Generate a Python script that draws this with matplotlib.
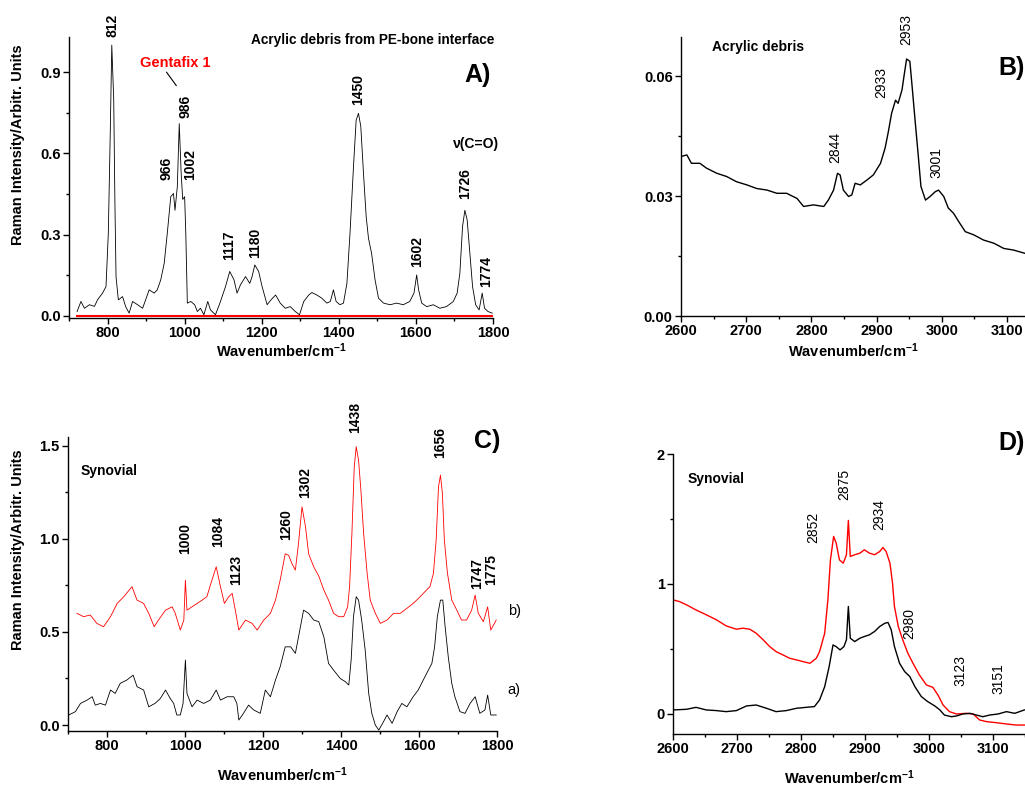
import matplotlib
matplotlib.use("Agg")
import matplotlib.pyplot as plt
from matplotlib.ticker import MultipleLocator, FormatStrFormatter

plt.rcParams['font.family'] = ['Liberation Sans', 'DejaVu Sans']
plt.rcParams['mathtext.default'] = 'regular'

# ---------------- Panel A: acrylic debris (fingerprint region) ----------------
a_wn = [721, 731, 740, 753, 766, 774, 787, 796, 802, 807, 811, 816, 819, 822, 828,
        839, 847, 856, 865, 878, 891, 908, 921, 929, 938, 947, 955, 964, 971, 975,
        981, 986, 991, 995, 1000, 1003, 1007, 1016, 1026, 1033, 1041, 1050, 1060,
        1067, 1080, 1093, 1106, 1117, 1128, 1136, 1145, 1158, 1169, 1175, 1182,
        1192, 1201, 1214, 1224, 1236, 1248, 1261, 1274, 1287, 1298, 1309, 1322,
        1330, 1343, 1356, 1369, 1378, 1386, 1393, 1403, 1412, 1421, 1429, 1438,
        1445, 1451, 1457, 1464, 1471, 1477, 1485, 1494, 1503, 1516, 1533, 1550,
        1567, 1584, 1595, 1602, 1607, 1615, 1628, 1645, 1662, 1679, 1697, 1707,
        1714, 1721, 1727, 1733, 1740, 1747, 1755, 1764, 1772, 1778, 1787, 1798]
a_int = [0.016, 0.053, 0.028, 0.041, 0.035, 0.059, 0.084, 0.108, 0.305, 0.674,
         1.000, 0.800, 0.430, 0.145, 0.059, 0.071, 0.034, 0.010, 0.053, 0.041,
         0.028, 0.096, 0.084, 0.096, 0.133, 0.194, 0.305, 0.440, 0.452, 0.390,
         0.477, 0.710, 0.526, 0.430, 0.440, 0.305, 0.047, 0.053, 0.041, 0.016,
         0.028, 0.004, 0.053, 0.022, 0.004, 0.053, 0.108, 0.164, 0.133, 0.084,
         0.115, 0.145, 0.120, 0.145, 0.188, 0.164, 0.108, 0.041, 0.059, 0.077,
         0.047, 0.028, 0.034, 0.016, 0.004, 0.053, 0.077, 0.086, 0.077, 0.065,
         0.047, 0.053, 0.096, 0.053, 0.041, 0.047, 0.120, 0.305, 0.550, 0.723,
         0.748, 0.700, 0.526, 0.366, 0.286, 0.231, 0.133, 0.065, 0.047, 0.041,
         0.047, 0.041, 0.053, 0.084, 0.151, 0.096, 0.047, 0.034, 0.041, 0.028,
         0.034, 0.053, 0.084, 0.157, 0.330, 0.390, 0.354, 0.231, 0.108, 0.041,
         0.022, 0.084, 0.028, 0.016, 0.010]
genta_wn = [720, 1800]
genta_int = [0.0, 0.0]
a_peaks = [("812", 813, 1.03), ("986", 1002, 0.729), ("966", 953, 0.50),
           ("1002", 1013, 0.50), ("1117", 1115, 0.207), ("1180", 1184, 0.213),
           ("1450", 1451, 0.778), ("1602", 1602, 0.182), ("1726", 1727, 0.432),
           ("1774", 1781, 0.108)]

# ---------------- Panel B: acrylic debris (CH stretching region) ----------------
b_wn = [2600, 2609, 2616, 2629, 2639, 2655, 2670, 2685, 2701, 2716, 2732, 2747,
        2762, 2778, 2788, 2803, 2819, 2826, 2834, 2840, 2844, 2849, 2857, 2862,
        2867, 2875, 2885, 2895, 2906, 2913, 2918, 2923, 2929, 2933, 2936, 2939,
        2942, 2946, 2951, 2954, 2959, 2964, 2968, 2975, 2982, 2990, 2995, 3003,
        3010, 3018, 3026, 3036, 3049, 3064, 3080, 3095, 3110, 3127]
b_int = [0.0399, 0.0403, 0.0382, 0.0382, 0.0370, 0.0357, 0.0349, 0.0336, 0.0328,
         0.0319, 0.0315, 0.0307, 0.0307, 0.0294, 0.0274, 0.0278, 0.0274, 0.0290,
         0.0315, 0.0357, 0.0353, 0.0315, 0.0299, 0.0303, 0.0332, 0.0328, 0.0340,
         0.0353, 0.0382, 0.0420, 0.0461, 0.0507, 0.0540, 0.0532, 0.0549, 0.0566,
         0.0600, 0.0643, 0.0637, 0.0583, 0.0490, 0.0399, 0.0324, 0.0290, 0.0299,
         0.0311, 0.0315, 0.0299, 0.0270, 0.0257, 0.0236, 0.0211, 0.0203, 0.0190,
         0.0182, 0.0169, 0.0165, 0.0157]
b_peaks = [("2844", 2836, 0.0382), ("2933", 2907, 0.0545),
           ("2953", 2946, 0.0678), ("3001", 2992, 0.0345)]

# ---------------- Panel C: synovial (fingerprint region) ----------------
cb_wn = [723, 740, 757, 774, 791, 809, 826, 843, 864, 877, 894, 907, 921, 932,
         950, 967, 975, 988, 997, 1001, 1005, 1018, 1031, 1044, 1056, 1069, 1080,
         1091, 1101, 1112, 1121, 1129, 1138, 1155, 1172, 1185, 1202, 1219, 1232,
         1244, 1257, 1266, 1274, 1283, 1291, 1300, 1309, 1317, 1330, 1343, 1356,
         1368, 1381, 1394, 1407, 1417, 1422, 1428, 1434, 1439, 1445, 1451, 1458,
         1467, 1475, 1488, 1501, 1518, 1535, 1552, 1569, 1585, 1603, 1615, 1628,
         1637, 1644, 1650, 1655, 1660, 1665, 1673, 1684, 1697, 1709, 1722, 1735,
         1744, 1752, 1765, 1776, 1784, 1798]
cb_int = [0.600, 0.582, 0.591, 0.546, 0.528, 0.582, 0.653, 0.689, 0.743, 0.671,
          0.653, 0.600, 0.528, 0.564, 0.617, 0.635, 0.600, 0.510, 0.564, 0.778,
          0.617, 0.635, 0.653, 0.671, 0.689, 0.778, 0.850, 0.743, 0.653, 0.689,
          0.707, 0.617, 0.510, 0.564, 0.546, 0.510, 0.564, 0.600, 0.671, 0.778,
          0.920, 0.911, 0.868, 0.832, 0.975, 1.172, 1.065, 0.920, 0.850, 0.800,
          0.725, 0.671, 0.600, 0.582, 0.582, 0.635, 0.743, 1.030, 1.387, 1.495,
          1.423, 1.262, 1.030, 0.815, 0.671, 0.600, 0.546, 0.564, 0.600, 0.600,
          0.627, 0.653, 0.689, 0.716, 0.743, 0.815, 0.993, 1.280, 1.342, 1.244,
          0.993, 0.815, 0.671, 0.617, 0.564, 0.564, 0.617, 0.698, 0.600, 0.555,
          0.635, 0.510, 0.564]
ca_wn = [702, 719, 732, 749, 762, 770, 783, 796, 809, 821, 834, 851, 867, 877,
         894, 907, 923, 937, 950, 962, 971, 979, 988, 995, 1001, 1005, 1018, 1031,
         1048, 1065, 1080, 1091, 1108, 1125, 1133, 1138, 1150, 1163, 1176, 1193,
         1206, 1219, 1232, 1244, 1257, 1271, 1283, 1296, 1304, 1317, 1330, 1343,
         1356, 1368, 1381, 1398, 1411, 1420, 1426, 1432, 1439, 1445, 1453, 1462,
         1471, 1479, 1488, 1497, 1509, 1518, 1531, 1544, 1556, 1569, 1585, 1598,
         1611, 1624, 1633, 1640, 1647, 1655, 1661, 1667, 1675, 1684, 1692, 1705,
         1718, 1731, 1744, 1756, 1769, 1776, 1784, 1798]
ca_int = [0.054, 0.072, 0.116, 0.134, 0.152, 0.107, 0.116, 0.107, 0.188, 0.170,
          0.224, 0.242, 0.268, 0.206, 0.188, 0.098, 0.116, 0.143, 0.188, 0.143,
          0.116, 0.054, 0.054, 0.116, 0.349, 0.170, 0.098, 0.134, 0.116, 0.134,
          0.188, 0.134, 0.152, 0.152, 0.116, 0.027, 0.063, 0.107, 0.081, 0.063,
          0.188, 0.152, 0.242, 0.313, 0.420, 0.420, 0.385, 0.528, 0.617, 0.600,
          0.564, 0.555, 0.474, 0.331, 0.295, 0.250, 0.233, 0.215, 0.349, 0.582,
          0.689, 0.671, 0.564, 0.403, 0.170, 0.063, 0.000, -0.027, 0.018, 0.054,
          0.009, 0.072, 0.116, 0.098, 0.152, 0.188, 0.242, 0.295, 0.331, 0.420,
          0.582, 0.671, 0.671, 0.528, 0.367, 0.224, 0.152, 0.072, 0.063, 0.116,
          0.152, 0.063, 0.081, 0.161, 0.054, 0.054]
c_peaks = [("1000", 1001, 0.92), ("1084", 1086, 0.958), ("1123", 1131, 0.752),
           ("1260", 1260, 0.993), ("1302", 1307, 1.217), ("1438", 1437, 1.566),
           ("1656", 1655, 1.432), ("1747", 1749, 0.728), ("1775", 1785, 0.752)]

# ---------------- Panel D: synovial (CH stretching region) ----------------
dr_wn = [2600, 2610, 2621, 2636, 2652, 2668, 2683, 2699, 2709, 2720, 2730, 2741,
         2751, 2761, 2772, 2782, 2793, 2803, 2814, 2824, 2829, 2837, 2842, 2846,
         2851, 2855, 2860, 2866, 2871, 2874, 2877, 2884, 2892, 2899, 2907, 2915,
         2923, 2928, 2933, 2939, 2943, 2946, 2952, 2959, 2967, 2975, 2985, 2996,
         3006, 3014, 3022, 3032, 3043, 3058, 3069, 3079, 3090, 3105, 3121, 3136,
         3149]
dr_int = [0.878, 0.865, 0.840, 0.800, 0.763, 0.724, 0.678, 0.652, 0.660, 0.652,
          0.621, 0.570, 0.519, 0.480, 0.454, 0.429, 0.416, 0.403, 0.390, 0.429,
          0.480, 0.621, 0.878, 1.186, 1.366, 1.315, 1.186, 1.160, 1.225, 1.489,
          1.212, 1.225, 1.237, 1.263, 1.237, 1.225, 1.250, 1.281, 1.250, 1.160,
          1.006, 0.827, 0.673, 0.570, 0.467, 0.390, 0.300, 0.223, 0.205, 0.146,
          0.069, 0.018, 0.000, 0.005, 0.000, -0.046, -0.059, -0.067, -0.077,
          -0.085, -0.085]
dk_wn = [2600, 2621, 2636, 2652, 2668, 2683, 2699, 2715, 2730, 2746, 2761, 2777,
         2793, 2808, 2821, 2829, 2837, 2844, 2850, 2855, 2861, 2867, 2871, 2874,
         2877, 2884, 2892, 2899, 2907, 2915, 2923, 2931, 2936, 2941, 2946, 2954,
         2962, 2970, 2978, 2988, 2998, 3009, 3017, 3024, 3035, 3043, 3053, 3064,
         3074, 3084, 3095, 3108, 3121, 3134, 3149]
dk_int = [0.031, 0.036, 0.051, 0.031, 0.026, 0.018, 0.026, 0.062, 0.069, 0.044,
          0.018, 0.026, 0.044, 0.051, 0.057, 0.108, 0.210, 0.365, 0.531, 0.518,
          0.493, 0.518, 0.570, 0.827, 0.583, 0.557, 0.583, 0.596, 0.609, 0.635,
          0.673, 0.698, 0.704, 0.647, 0.519, 0.390, 0.326, 0.288, 0.210, 0.134,
          0.095, 0.062, 0.031, -0.008, -0.021, -0.015, 0.000, 0.005, -0.008,
          -0.021, -0.008, 0.000, 0.018, 0.005, 0.031]
d_peaks = [("2852", 2819, 1.314), ("2875", 2867, 1.648), ("2934", 2922, 1.417),
           ("2980", 2969, 0.575), ("3123", 3049, 0.216), ("3151", 3109, 0.154)]

W, H = 1025, 789
fig = plt.figure(figsize=(W / 100, H / 100), dpi=100)


def add_ax(l, r, t, b):
    return fig.add_axes([l / W, 1 - b / H, (r - l) / W, (b - t) / H])


def style(ax, xmaj, xmin, ymaj, ymin):
    for s in ('top', 'right'):
        ax.spines[s].set_visible(False)
    for s in ('left', 'bottom'):
        ax.spines[s].set_linewidth(1.0)
    ax.xaxis.set_major_locator(MultipleLocator(xmaj))
    ax.xaxis.set_minor_locator(MultipleLocator(xmin))
    ax.yaxis.set_major_locator(MultipleLocator(ymaj))
    ax.yaxis.set_minor_locator(MultipleLocator(ymin))
    ax.tick_params(which='major', direction='out', length=4, width=1, labelsize=10.5, pad=2)
    ax.tick_params(which='minor', direction='out', length=2.5, width=1)
    for lab in ax.get_xticklabels() + ax.get_yticklabels():
        lab.set_fontweight('bold')


def peak_labels(ax, peaks, bold):
    for txt, x, y in peaks:
        ax.text(x, y, txt, rotation=90, ha='center', va='bottom', fontsize=10,
                fontweight='bold' if bold else 'normal', clip_on=False)


xlabel = r'Wavenumber/cm$^{-1}$'

# ---- A
axA = add_ax(69, 493, 37, 318)
axA.plot(genta_wn, genta_int, color='red', lw=1.5)
axA.plot(a_wn, a_int, color='black', lw=0.6)
axA.set_xlim(700, 1800)
axA.set_ylim(-0.008, 1.03)
style(axA, 200, 100, 0.3, 0.15)
axA.yaxis.set_major_formatter(FormatStrFormatter('%.1f'))
peak_labels(axA, a_peaks, True)
axA.set_xlabel(xlabel, fontsize=10.5, fontweight='bold', labelpad=1)
axA.text(0.717, 0.99, 'Acrylic debris from PE-bone interface', transform=axA.transAxes,
         ha='center', va='center', fontsize=9.8, fontweight='bold')
axA.text(0.995, 0.865, 'A)', transform=axA.transAxes, ha='right', va='center',
         fontsize=18, fontweight='bold')
axA.text(0.25, 0.907, 'Gentafix 1', transform=axA.transAxes, ha='center', va='center',
         fontsize=10.5, fontweight='bold', color='red')
axA.annotate('', xy=(0.257, 0.819), xytext=(0.226, 0.883), xycoords='axes fraction',
             arrowprops=dict(arrowstyle='-', lw=0.8, color='black'))
axA.text(0.96, 0.62, 'ν(C=O)', transform=axA.transAxes, ha='center', va='center',
         fontsize=10, fontweight='bold')

# ---- B
axB = add_ax(681, 1025, 37, 316)
axB.plot(b_wn, b_int, color='black', lw=1.0)
axB.set_xlim(2600, 3127.6)
axB.set_ylim(0, 0.0698)
style(axB, 100, 50, 0.03, 0.015)
axB.yaxis.set_major_formatter(FormatStrFormatter('%.2f'))
peak_labels(axB, b_peaks, False)
axB.set_xlabel(xlabel, fontsize=10.5, fontweight='bold', labelpad=2)
axB.text(0.09, 0.964, 'Acrylic debris', transform=axB.transAxes, ha='left', va='center',
         fontsize=10, fontweight='bold')
axB.text(0.998, 0.89, 'B)', transform=axB.transAxes, ha='right', va='center',
         fontsize=18, fontweight='bold')

# ---- C
axC = add_ax(68, 497, 437, 731)
axC.plot(cb_wn, cb_int, color='red', lw=0.6)
axC.plot(ca_wn, ca_int, color='black', lw=0.6)
axC.set_xlim(700, 1800)
axC.set_ylim(-0.032, 1.547)
style(axC, 200, 100, 0.5, 0.25)
axC.yaxis.set_major_formatter(FormatStrFormatter('%.1f'))
peak_labels(axC, c_peaks, True)
axC.set_xlabel(xlabel, fontsize=10.5, fontweight='bold', labelpad=9)
axC.text(0.03, 0.884, 'Synovial', transform=axC.transAxes, ha='left', va='center',
         fontsize=10, fontweight='bold')
axC.text(1.007, 0.985, 'C)', transform=axC.transAxes, ha='right', va='center',
         fontsize=18, fontweight='bold')
axC.text(1.025, 0.408, 'b)', transform=axC.transAxes, ha='left', va='center', fontsize=10.5)
axC.text(1.025, 0.139, 'a)', transform=axC.transAxes, ha='left', va='center', fontsize=10.5)

# ---- D
axD = add_ax(673, 1025, 454, 734)
axD.plot(dr_wn, dr_int, color='red', lw=1.0)
axD.plot(dk_wn, dk_int, color='black', lw=1.0)
axD.set_xlim(2600, 3150)
axD.set_ylim(-0.154, 2.0)
style(axD, 100, 50, 1, 0.5)
peak_labels(axD, d_peaks, False)
axD.set_xlabel(xlabel, fontsize=10.5, fontweight='bold', labelpad=9)
axD.text(0.04, 0.91, 'Synovial', transform=axD.transAxes, ha='left', va='center',
         fontsize=10, fontweight='bold')
axD.text(0.998, 1.04, 'D)', transform=axD.transAxes, ha='right', va='center',
         fontsize=18, fontweight='bold')

# y labels
fig.text(18 / W, 1 - 145 / H, 'Raman Intensity/Arbitr. Units', rotation=90, ha='center',
         va='center', fontsize=10.5, fontweight='bold')
fig.text(18 / W, 1 - 550 / H, 'Raman Intensity/Arbitr. Units', rotation=90, ha='center',
         va='center', fontsize=10.5, fontweight='bold')

fig.savefig('out.png', dpi=100)
